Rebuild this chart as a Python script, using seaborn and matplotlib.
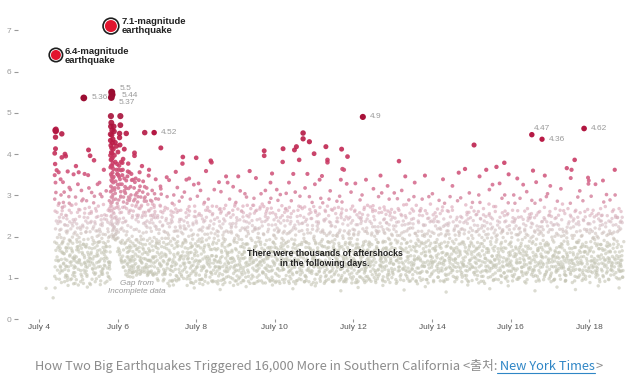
import matplotlib
matplotlib.use('Agg')
import matplotlib.pyplot as plt
from matplotlib.colors import LinearSegmentedColormap
from matplotlib.lines import Line2D
import numpy as np
import pandas as pd
import seaborn as sns

# the two main shocks (day of July, magnitude)
main_day = [4.43, 5.83]
main_mag = [6.4, 7.1]
main_label = ['6.4-magnitude\nearthquake', '7.1-magnitude\nearthquake']

# aftershocks that carry their magnitude as a label
big_day = [5.14, 5.85, 5.86, 5.84, 6.93, 12.24, 16.54, 16.80, 17.87]
big_mag = [5.36, 5.50, 5.44, 5.37, 4.52, 4.90, 4.47, 4.36, 4.62]
big_label = ['5.36', '5.5', '5.44', '5.37', '4.52', '4.9', '4.47', '4.36', '4.62']

tick_days = [4, 6, 8, 10, 12, 14, 16, 18]
mag_ticks = [0, 1, 2, 3, 4, 5, 6, 7]

# aftershock cloud, one tenth of a day at a time.
# line = column start (day of July), token "ommm" -> day + o/100, magnitude mmm/100
first_sequence = """
4.1 8075
4.3 6052
4.4 0104 1262 0187 2331 1458 3143 0402 2219 1376 4098 0291 3167 2455 1127 4238 0349 2413 5184 3307 1076 6151 8232 7119 9276 5361 7198 9141 6259 8173 4456 3460 2441
4.5 0143 1281 2097 3216 4172 5339 6118 7254 8392 9161 2205 4129 6301 8183 1238 3166 7089 5236 9271 0356 8449
4.6 0117 2246 4308 6400 8395 1189 3136 5274 7102 9213 1332 3159 5091 7228 9174 2283 6146 8129 4196
4.7 1106 3227 5173 7319 9138 0251 2094 4182 6297 8153 1209 3358 5127 7264 9191 0165 4082 8236
4.8 0188 2131 4276 6107 8351 1219 3098 5163 7241 9124 0314 2172 4232 6149 8086 1277 5199 9143
4.9 1153 3242 5096 7187 9327 0129 2211 4371 6168 8259 1113 3296 5139 7204 9176 2087 6231 0147
5.0 0121 2198 4265 6091 8172 1356 3144 5223 7109 9287 2163 4137 6218 8312 0083 5179
5.1 1096 3182 5247 7138 9211 0162 2291 4119 6352 8176 1228 3087 5154 7268 9133 4193
5.2 0175 2104 4233 6410 8149 1287 3126 5194 7318 9087 2221 4162 6139 8256 1181 5349
5.3 1139 3261 5097 7182 9224 0396 2158 4307 6123 8191 1084 3237 5171 7146 9282 0212
5.4 0385 2186 4112 6247 8159 1298 3091 5214 7137 9327 2173 4268 6098 8201 0152 3231
5.5 1127 3204 5168 7093 9251 0186 2139 4331 6212 8146 1274 3104 5188 7229 9161 6303
5.6 0196 2121 4278 6157 8088 1233 3174 5362 7141 9205 2109 4186 6243 8129 0297 5163
5.7 1164 3092 5219 7138 9287 0176 2251 4124 6189 8102 1311 3147 5235 7198 9133 6264
5.8 0122 1097 0201 1163 0262 1138 0176 1231
"""

second_sequence = """
5.8 3492 3467 2448 4476 3421 2433 4404 3386 2397 4372 3351 2368 4337 3322 2309 4296 3281 2274 4263 5252 6244 7231 8226 9218 5311 6283 7296 8267 9259 5346 6334 7318 8302 9289 5388 6371 7355 8342 9331 5415 6402 7391 8378 9364 5446 6458 7427 8436 9412 4237 3249 6229 7214 9201 8197 5274 6205
5.9 0201 1256 2313 3194 4428 5291 6207 7362 8196 9239 0345 1221 2397 3269 4205 5334 6248 7419 8217 9281 1455 3318 5192 7243 9376 0467 2224 4305 6213 8271 9352 4381 6233 2246
6.0 0164 1274 2211 3362 4168 5243 6327 7187 8296 9148 0231 1405 2172 3289 4345 5156 6258 7492 7470 8218 9381 0326 5450 5440 1197 3236 6162 8309 4267 2349 9143 6422
6.1 1137 3234 5168 7311 9142 0259 2191 4388 6127 8272 1221 3153 5296 7412 9236 0141 2349 4126 6214 8183 3271 7139 5245 9321 0184
6.2 0117 2204 4151 6289 8128 1238 3173 5346 7112 9257 2450 0186 2317 4133 6227 8164 1108 3268 5191 7377 9145 8296 6104 4212
6.3 1121 3188 5113 7246 9164 0288 2139 4223 6337 8112 1178 3264 5146 7201 9102 0356 4174 8251 2103 6129
6.4 0141 2217 4116 6273 8169 1124 3403 3396 5301 7192 9252 0114 2178 4332 6135 8218 1287 5158 9117 7241
6.5 1112 3236 5174 7109 9201 0153 2297 4128 6356 8184 1247 3121 5213 7322 9141 0171 4269 8118
6.6 0193 2116 4252 6169 8293 1138 3124 5209 7147 9452 2371 4181 6232 8114 1276 3158 5334 9126
6.7 1146 3211 5112 7278 9171 0234 2127 4318 6191 8109 1259 3162 5223 7117 9348 0296 6143
6.8 0128 2183 4251 6117 8312 1164 3221 5139 7286 9111 0362 2196 4143 6241 8177 1114 5268
6.9 1107 3198 5261 7152 9109 0233 2136 4304 6178 8224 1148 3276 5112 7339 9193 0167 6246
"""

week_two = """
7.0 0184 2123 4291 6157 8236 1098 3171 5208 7133 9322 2251 4114 6189 8276 1143
7.1 1131 3247 5108 7186 9264 0415 2161 4226 6093 8139 1303 3196 5258 7121 9174 0316
7.2 0112 2196 4244 6133 8087 1271 3156 5344 7209 9142 2118 4181 6297 8232 0158
7.3 1167 3093 5233 7128 9281 0204 2146 4108 6262 8179 1337 3121 5189 7241 9094
7.4 0138 2259 4172 6096 8214 1116 3301 5151 7223 9184 2083 4277 6131 8357 1196
7.5 1104 3188 5263 7144 9226 0093 2319 4161 6121 8242 1176 3214 5099 7286 9153
7.6 0129 2211 4154 6393 8099 1264 3177 5377 7136 9238 2108 4296 6183 8146 0221
7.7 1193 3126 5247 7082 9171 0308 2153 4219 6114 8266 1136 3191 5338 7162 9104
7.8 0148 2273 4097 6184 8129 1226 3161 5291 7111 9203 2341 4137 6174 8089 1252
7.9 1117 3206 5139 7261 9092 0178 2233 4326 6154 8121 1194 3087 5249 7168 9143
8.0 0391 2126 4189 6252 8107 1163 3298 5134 7216 9087 2177 4141 6329 8194 1233
8.1 1096 3158 5214 7123 9279 0141 2187 4097 6243 8168 1312 3127 5196 7084 9236
8.2 0174 2239 4108 6192 8136 1283 3151 5359 7117 9206 2092 4264 6147 8221 0126
8.3 1132 3197 5261 7384 9380 0088 2221 4143 6169 8113 1291 3176 5102 7238 9154
8.4 0109 2182 4136 6314 8207 1154 3093 5231 7171 9128 2256 4119 6196 8143 1274
8.5 1168 3117 5202 7139 9266 0091 2184 4246 6127 8332 1153 3214 5086 7191 9122
8.6 0143 2257 4094 6178 8231 1126 3309 5162 7108 9196 2137 4221 6152 8084 1268
8.7 1188 3134 5276 7102 9159 0243 2117 4193 6346 8128 1211 3089 5166 7252 9141
8.8 0116 2211 4162 6089 8247 1178 3136 5291 7147 9213 2104 4258 6181 8127 0331
8.9 1138 3264 5111 7187 9093 0226 2149 4321 6124 8196 1167 3232 5082 7141 9279
9.0 0171 2093 4239 6153 8118 1283 3204 5131 7346 9162 2119 4186 6267 8098 1224
9.1 1102 3176 5148 7221 9274 0134 2311 4089 6193 8157 1241 3123 5262 7108 9183
9.2 0147 2238 4112 6181 8296 1093 3162 5217 7129 9251 2173 4304 6136 8201 0118
9.3 1223 3114 5169 7087 9196 0276 2131 4248 6359 8151 1182 3104 5233 7142 9268
9.4 0098 2191 4276 6142 8119 1164 3227 5103 7293 9176 2136 4213 6087 8257 1149
9.5 1186 3129 5241 7164 9093 0217 2342 4116 6198 8133 1262 3178 5091 7219 9152
9.6 0124 2267 4151 6093 8226 1196 3138 5304 7172 9112 2243 4187 6131 8279 0162
9.7 1113 3408 3396 5237 7146 9191 0088 2273 4167 6312 8124 1207 3138 5181 7256 9102
9.8 0156 2212 4098 6283 8167 1131 3246 5116 7193 9331 2147 4229 6174 8092 1268
9.9 1174 3102 5258 7137 9216 0293 2153 4119 6186 8241 1127 3353 5164 7093 9202
10.0 0136 2229 4173 6107 8288 1151 3196 5314 7122 9169 2089 4247 6143 8211 0182
10.1 1092 3161 5233 7184 9127 0264 2118 4302 6149 8196 1216 3087 5176 7139 9251
10.2 1413 0381 2146 4213 6097 8268 1178 3121 5259 7163 9305 0131 2191 4089 6226 8144
10.3 1207 3143 5092 7271 9158 0186 2239 4127 6331 8104 1163 3248 5189 7117 9212
10.4 0119 2287 4164 6136 8222 1098 3194 5141 7352 9183 2256 4112 6173 8091 1237
10.5 0410 5418 1147 3219 5093 7178 9264 0129 2308 4161 6114 8237 1192 3086 7143
10.6 2386 1168 3124 5251 7096 9186 0142 2213 4298 6157 8119 1274 3181 5108 9232
10.7 2451 2437 0113 4196 6272 8141 1233 3162 5091 7318 9174 2128 4247 6189 8104
10.8 8430 1157 3228 5119 7183 9266 0094 2146 4209 6124 8297 1186 3352 5138 7091
10.9 0172 2117 4244 6161 8089 1209 3136 5283 7148 9196 2259 4111 6227 8167 1132
11.0 0401 2097 4186 6236 8131 1154 3263 5109 7214 9173 2327 4142 6088 8251 1191
11.1 1126 3183 5271 7104 9157 0219 2144 4338 6092 8188 1236 3117 5162 7293 9138
11.2 0162 2216 4131 6087 8264 1193 3127 5241 7176 9103 2282 4159 6208 8118 0347
11.3 4386 4380 0418 1094 3172 5136 7251 9114 2203 6162 8291 1128 5188 7097 9236
11.4 0147 2234 4103 6189 8124 1311 3158 5227 7091 9176 2133 4266 6118 8203 1164
11.5 1183 3112 5256 7143 9201 0091 2168 4224 6137 8286 1108 3193 5149 7237 9126
11.6 0128 2271 4154 6216 8097 1139 3184 5298 7121 9246 2167 4093 6173 8338 0207
11.7 0412 2364 6362 1106 3231 5147 7093 9181 0258 2123 4196 8137 1284 5169 7214
11.8 5394 1151 3097 7243 9132 0186 2264 4118 6209 8163 1091 3328 5174 7126 9196
11.9 0109 2187 4233 6141 8274 1163 3102 5196 7129 9218 2151 4308 6088 8179 1247
12.0 1134 3216 5089 7182 9253 0147 2119 4264 6171 8096 1207 3143 5329 7156 9111
12.1 0193 2138 4247 6103 8166 1229 3174 5117 7289 9148 2092 4211 6136 8243 1182
12.2 1121 3254 5168 7094 9213 0137 2301 4152 6187 8112 1238 3177 5133 7266 9089
12.3 0159 2103 4221 6276 8134 1189 3126 5243 7168 9099 2338 4144 6208 8181 0117
12.4 1176 3131 5092 7209 9261 0143 2184 4116 6232 8157 1096 3272 5138 7181 9224
12.5 0122 2249 4167 6114 8193 1316 3146 5224 7089 9172 2131 4201 6263 8108 1152
12.6 1098 3186 5258 7131 9147 0212 2119 4297 6162 8233 1171 3104 5213 7154 9348
12.7 0131 2224 4096 6189 8272 1153 3117 5186 7241 9127 2306 4168 6103 8211 1139
12.8 1188 3141 5233 7108 9196 0265 2172 4129 6219 8152 1091 3254 5167 7323 9119
12.9 0114 2193 4258 6137 8174 1216 3089 5147 7266 9203 2136 4182 6241 8101 1291
"""

last_week = """
13.0 1156 3218 5121 7192 9087 0247 2133 4306 6171 8226 1109 3164 5259
13.1 6383 0142 2203 4117 6264 8158 1091 3189 5236 7127 9174 2292 4146
13.2 1108 3251 5169 7134 9212 0096 2183 4228 6121 8277 1147 3312 5196
13.3 0193 2119 4246 6163 8098 1229 3141 5278 7186 9124 2346 4172 6104
13.4 1137 3204 5093 7168 9267 0152 2114 4233 6189 8131 1289 3176 5221
13.5 0121 2176 4297 6143 8208 1098 3262 5153 7116 9184 2231 4135 6331
13.6 1164 3112 5238 7189 9101 0276 2147 4193 6124 8252 1179 3086 5213
13.7 0146 2268 4128 6203 8171 1113 3159 5291 7138 9227 2094 4186 6251
13.8 1201 3137 5176 7096 9244 0183 2348 4154 6116 8207 1128 3263 5187
13.9 0088 2214 4163 6279 8142 1191 3124 5236 7153 9109 2297 4178 6137
14.0 1149 3253 5117 7186 9226 0132 2171 4094 6243 8166 1304 3139 5208
14.1 0176 2128 4219 6102 8288 1154 3193 5133 7236 9181 2119 4267 6158
14.2 1093 3207 5161 7272 9138 0221 2146 4184 6117 8339 1256 3172 5124
14.3 0132 2281 4109 6176 8214 1143 3228 5096 7159 9263 2187 4121 6206
14.4 1214 3148 5196 7124 9172 0097 2261 4142 6297 8113 1186 3233 5152
14.5 0158 2189 4236 6127 8091 1272 3118 5167 7219 9146 2323 4104 6184
14.6 1126 3174 5287 7152 9203 0138 2241 4116 6168 8355 1193 3097 5226
14.7 0209 2117 4183 6246 8134 1161 3294 5108 7187 9129 2156 4218 6091
14.8 4364 1142 3216 5174 7098 9253 0187 2129 6277 8162 1234 3106 5151
14.9 0117 2196 4259 6143 8221 1093 3168 5306 7124 9187 2243 4136 6179
15.0 7422 1183 3127 5239 7164 9108 0271 2148 4196 6113 8228 1157 3283
15.1 0138 2212 4097 6186 8261 1124 3172 5213 7143 9301 2168 4254 6106
15.2 1176 3244 5131 7198 9117 0159 2283 4114 6221 8183 1346 3153 5092
15.3 8362 0104 2176 4226 6148 8119 1268 3191 5137 7249 9162 2213 4087
15.4 1143 3206 5279 7117 9188 0234 2129 4167 6314 8141 1197 3101 5252
15.5 0181 2137 4243 6094 8166 1219 3153 5108 7273 9131 2197 4326 6126
15.6 4369 2273 1112 3187 5154 7228 9096 0143 6204 8171 1261 3126 5193
15.7 0156 2221 4118 6173 8293 1136 3247 5182 7104 9214 2329 4151 6089
15.8 4379 1164 3112 5236 7189 9141 0217 2127 6262 8098 1198 3173 5301
15.9 5351 0131 2208 4146 6181 8117 1253 3092 7227 9163 2133 4282 6154
16.0 1187 3129 5264 7103 9219 0156 2176 4236 6122 8301 1141 3198 5093
16.1 0109 2243 4171 6136 8204 1281 3118 5157 7341 9192 2152 4226 6097
16.2 1168 3101 5211 7184 9126 0247 2137 4293 6159 8116 1219 3174 5138
16.3 0193 2154 4128 6262 8177 1106 3231 5142 7198 9088 2326 4163 6214
16.4 1132 3268 5177 7121 9244 0163 2096 4203 6148 8189 1309 3114 5246
16.5 7360 0126 2197 4143 6231 8104 1171 3256 5119 7188 9153 2223 4288
16.6 1214 3139 5092 7226 9171 0118 2281 4157 6194 8131 1246 3106 5332
16.7 0167 2206 4134 6289 8152 1097 3173 5213 7141 9236 2118 4261 6183
16.8 7348 1127 3191 5246 7108 9163 0224 2149 4096 6271 8182 1136 3217
16.9 0151 2117 4226 6163 8098 1297 3136 5179 7251 9121 2186 4304 6143
17.0 1103 3234 5146 7192 9127 0261 2168 4112 6217 8153 1323 3091 5199
17.1 0187 2141 4268 6114 8231 1156 3201 5128 7173 9286 2097 4163 6246
17.2 1161 3123 5218 7097 9183 0138 2252 4176 6132 8316 1204 3148 5106
17.3 0124 2279 4151 6203 8116 1181 3134 5263 7167 9092 2218 4128 6189
17.4 3366 6268 1139 5188 7121 9236 0094 2161 4223 8143 1106 3197 5152
17.5 5362 3342 0172 2113 4248 6136 8196 1127 3221 7089 9161 2281 4143
17.6 3386 6264 1118 5174 7231 9102 0156 2203 4131 8187 1243 3093 5147
17.7 0139 2186 4229 6107 8162 1296 3148 5121 7258 9174 2133 4191 6311
17.8 1176 3113 5241 7163 9127 0201 2094 4287 6152 8218 1134 3182 5098
17.9 7343 9336 8328 6266 0164 2118 4213 1097 3176 5141 7231 9123 2186
18.0 0126 2251 4188 6131 8213 1104 3167 5298 7142 9196 2231 4116 6174
18.1 1198 3136 5221 7109 9178 0264 2141 4193 6327 8127 1163 3248 5117
18.2 0143 2107 4256 6171 8238 1124 3197 5152 7091 9268 2182 4134 6219
18.3 1121 3208 5167 7284 9143 0181 2136 4229 6103 8191 1251 3117 5336
18.4 0168 2233 4112 6186 8149 1273 3131 5203 7176 9097 2159 4302 6124
18.5 1147 3179 5236 7128 9261 0096 2214 4163 6138 8207 1182 3289 5119
18.6 5362 2265 0117 4193 6144 8229 1172 3108 7251 9136 2196 4127 6301
18.7 0154 2212 4137 6268 8098 1189 3147 5224 7163 9116 2247 4181 6129
18.8 0132 2176 4234 6118 8188 1261 3143 5102
"""

# the dense grey band of small shocks (magnitude ~0.9 to 2)
grey_band = """
4.5 3112 7145 1178 5126 9163 6198
4.6 2134 8107 4159 0186 6121 9172
4.7 5118 1143 7192 3101 9156 0128
4.8 4167 8113 2139 6184 0096 9148
4.9 3126 7175 1104 5151 9137 6193
5.0 2143 6118 0169 8132 4187 9104
5.1 5136 1158 7112 3181 9127 6149
5.2 0117 4142 8173 2108 6156 9131
5.3 3162 7121 1147 5198 9113 6136
5.4 2109 6153 0131 8178 4124 9166
5.5 4141 8116 2187 6128 0154 9109
5.6 3123 7168 1114 5147 9183 6131
5.7 0151 4112 8139 2176 6104 9128
6.2 6136 9118 7151 8174 5162 9195
6.3 3143 7118 1167 5126 9184 6152
6.4 2131 6178 0152 8107 4145 9193
6.5 5164 1126 7143 3187 9112 6151
6.6 0148 4173 8119 2136 6194 9162
6.7 3133 7157 1181 5124 9142 6106
6.8 2166 6129 0143 8189 4114 9151
6.9 4127 8174 2151 6139 0108 9186
7.0 3094 7136 1162 5118 9149 6183
7.1 0128 4153 8097 2176 6142 9114
7.2 5171 1109 7135 3152 9196 6124
7.3 2144 6118 0183 8129 4161 9092
7.4 3157 7121 1144 5193 9106 6138
7.5 0134 4178 8113 2158 6096 9147
7.6 5117 1151 7186 3104 9132 6163
7.7 2173 6098 0121 8146 4187 9155
7.8 3106 7162 1138 5124 9176 6089
7.9 0147 4115 8183 2131 6159 9107
8.0 4154 8096 2127 6178 0112 9141
8.1 3118 7146 1173 5097 9129 6188
8.2 0163 4103 8141 2179 6116 9152
8.3 5127 1181 7114 3148 9093 6136
8.4 2091 6144 0169 8126 4187 9111
8.5 3139 7105 1152 5171 9126 6093
8.6 0111 4166 8128 2149 6183 9097
8.7 5148 1097 7123 3174 9162 6115
8.8 2136 6181 0154 8101 4122 9147
8.9 3098 7128 1163 5146 9116 6191
9.0 0131 4105 8147 2168 6085 9194
9.1 5113 1141 7176 3129 9094 6157
9.2 2164 6102 0125 8183 4149 9138
9.3 3092 7147 1119 5171 9158 6133
9.4 0156 4124 8171 2107 6138 9087
9.5 5102 1176 7131 3144 9188 6119
9.6 2139 6161 0107 8142 4181 9115
9.7 3167 7108 1144 5124 9152 6088
9.8 0119 4151 8094 2173 6128 9163
9.9 5141 1117 7163 3096 9131 6187
10.0 2111 6146 0174 8123 4092 9158
10.1 3133 7171 1104 5156 9119 6142
10.2 0096 4168 8137 2121 6183 9106
10.3 5114 1149 7087 3176 9143 6128
10.4 2153 6108 0133 8162 4124 9181
10.5 3171 7094 1126 5139 9154 6113
10.6 0144 4117 8181 2098 6151 9129
10.7 5157 1133 7106 3148 9187 6091
10.8 2119 6174 0102 8136 4159 9114
10.9 3084 7152 1168 5117 9128 6145
11.0 0127 4183 8109 2147 6132 9166
11.1 5098 1164 7141 3115 9179 6124
11.2 2176 6113 0138 8091 4156 9143
11.3 3121 7174 1106 5153 9138 6187
11.4 0186 4129 8154 2116 6092 9171
11.5 5132 1094 7117 3169 9146 6158
11.6 2107 6139 0163 8121 4178 9101
11.7 3152 7113 1176 5091 9128 6144
11.8 0098 4146 8168 2133 6117 9184
11.9 5124 1182 7097 3141 9166 6112
12.0 2158 6128 0103 8174 4139 9089
12.1 3116 7154 1131 5172 9102 6163
12.2 0141 4098 8126 2164 6181 9118
12.3 5167 1123 7148 3093 9137 6104
12.4 2128 6163 0187 8108 4152 9141
12.5 3101 7138 1162 5118 9176 6094
12.6 0157 4121 8143 2186 6109 9128
12.7 5093 1147 7172 3126 9151 6138
12.8 2146 6102 0121 8159 4173 9096
12.9 3168 7123 1108 5142 9117 6184
13.0 0113 4152 8096 2134 6171 9142
13.1 5126 1185 7118 3153 9104 6137
13.2 2171 6123 0148 8094 4138 9166
13.3 3108 7151 1127 5184 9145 6116
13.4 0162 4117 8138 2092 6154 9123
13.5 5145 1108 7166 3131 9092 6174
13.6 2124 6151 0093 8177 4146 9112
13.7 3183 7097 1142 5116 9163 6131
13.8 0128 4163 8114 2154 6096 9141
13.9 5104 1132 7184 3167 9126 6152
14.0 2137 6172 0112 8141 4091 9168
14.1 3149 7114 1186 5102 9137 6123
14.2 0176 4135 8162 2118 6149 9093
14.3 5155 1091 7124 3142 9178 6106
14.4 2109 6136 0158 8174 4127 9146
14.5 3132 7171 1119 5143 9101 6164
14.6 0146 4102 8127 2161 6135 9182
14.7 5138 1165 7102 3124 9148 6113
14.8 2181 6118 0133 8106 4165 9128
14.9 3091 7143 1158 5175 9132 6121
15.0 0163 4126 8151 2094 6177 9114
15.1 5117 1148 7172 3135 9088 6156
15.2 2142 6104 0127 8166 4183 9139
15.3 3156 7128 1092 5147 9171 6118
15.4 0115 4162 8138 2171 6124 9103
15.5 5172 1123 7096 3153 9145 6131
15.6 2097 6148 0176 8118 4132 9163
15.7 3124 7186 1143 5106 9129 6168
15.8 0139 4113 8172 2149 6101 9146
15.9 5161 1104 7137 3117 9184 6129
16.0 2116 6167 0134 8152 4106 9123
16.1 3175 7122 1159 5138 9097 6144
16.2 0101 4147 8126 2162 6178 9113
16.3 5134 1168 7112 3146 9156 6091
16.4 2155 6124 0109 8137 4171 9149
16.5 3108 7162 1136 5184 9121 6113
16.6 0145 4181 8104 2128 6152 9166
16.7 5112 1137 7158 3093 9174 6126
16.8 2168 6103 0152 8178 4133 9109
16.9 3127 7146 1114 5161 9138 6182
17.0 0172 4128 8153 2107 6139 9094
17.1 5149 1096 7121 3166 9151 6117
17.2 2133 6176 0118 8139 4162 9127
17.3 3151 7109 1173 5124 9107 6143
17.4 0094 4156 8121 2147 6182 9136
17.5 5118 1162 7143 3109 9125 6171
17.6 2174 6121 0135 8151 4104 9186
17.7 3102 7137 1158 5166 9142 6119
17.8 0151 4119 8177 2136 6108 9163
17.9 5134 1104 7116 3147 9172 6158
18.0 2089 6152 0164 8113 4141 9125
18.1 3147 7102 1128 5184 9113 6136
18.2 0118 4171 8146 2153 6097 9181
18.3 5106 1156 7134 3171 9128 6149
18.4 2144 6116 0092 8163 4178 9138
18.5 3165 7131 1143 5107 9152 6121
18.6 0136 4148 8113 2182 6163 9101
18.7 5121 1174 7152 3098 9136 6117
18.8 0143 2117 4166 1128 3154 5102
"""

# the pinkish band above it (magnitude ~2 to 3.8), densest right after the 7.1
pink_band = """
4.5 2247 6218 9263
4.6 0271 5229 8252
4.7 3214 7281 1243
4.8 2258 6226 9207
4.9 0236 4279 8221
5.0 3249 7208 1266
5.1 2224 6257 9238
5.2 0212 4246 8271
5.3 3257 7219 1234
5.4 2236 6262 9214
5.5 0249 4218 8241
5.6 3206 7253 1227
5.7 2241 6212 9268
6.0 0351 2318 4372 6339 8298 9361
6.1 1327 3362 5284 7341 9307 2379
6.2 0305 2336 4281 6358 8317 9262
6.3 1293 3321 5352 7276 9338 4301
6.4 0262 2318 4291 6341 8277 9306
6.5 1284 3252 5312 7268 9296 4337
6.6 0273 2247 4308 6259 8286 9321
6.7 1251 3286 5238 7303 9264 2227
6.8 0262 2234 4288 6213 8252 9279
6.9 1247 3271 5226 7292 9218 4254
7.0 2246 6217 9274
7.1 0261 5228 8213
7.2 3239 7268 1211
7.3 2224 6253 9236
7.4 0248 4213 8267
7.5 3201 7236 1259
7.6 2242 6207 9226
7.7 0219 4258 8234
7.8 3262 7216 1201
7.9 2229 6274 9248
8.0 0238 4204 8256
8.1 3251 7223 1218
8.2 2206 6247 9271
8.3 0264 4227 8209
8.4 3219 7242 1253
8.5 2273 6212 9237
8.6 0226 4261 8204
8.7 3238 7214 1268
8.8 2257 6231 9222
8.9 0209 4253 8274
9.0 3246 7201 1232
9.1 2215 6262 9248
9.2 0258 4221 8236
9.3 3207 7255 1213
9.4 2239 6276 9219
9.5 0222 4264 8208
9.6 3272 7236 1221
9.7 2205 6249 9262
9.8 0241 4218 8257
9.9 3228 7204 1269
10.0 2254 6221 9238
10.1 0213 4246 8275
10.2 3239 7267 1209
10.3 2263 6209 9231
10.4 0247 4216 8262
10.5 3204 7249 1228
10.6 2231 6272 9215
10.7 0268 4206 8237
10.8 3217 7255 1242
10.9 2244 6218 9273
11.0 0201 4259 8226
11.1 3255 7211 1232
11.2 2212 6238 9261
11.3 0243 4274 8207
11.4 3226 7264 1211
11.5 2269 6203 9245
11.6 0236 4211 8253
11.7 3202 7241 1267
11.8 2248 6228 9206
11.9 0214 4267 8239
12.0 3261 7229 1204
12.1 2205 6258 9232
12.2 0246 4219 8271
12.3 3213 7252 1237
12.4 2237 6204 9266
12.5 0275 4241 8215
12.6 3224 7269 1208
12.7 2259 6217 9243
12.8 0208 4234 8262
12.9 3251 7206 1229
13.0 2226 6245 9212
13.1 0235 4268 8203
13.2 3209 7238 1254
13.3 2251 6214 9231
13.4 0219 4257 8242
13.5 3244 7208 1221
13.6 2202 6234 9263
13.7 0262 4213 8229
13.8 3228 7256 1206
13.9 2245 6201 9238
14.0 0211 4236 8258
14.1 3237 7204 1249
14.2 2218 6263 9225
14.3 0243 4202 8231
14.4 3206 7248 1227
14.5 2264 6215 9204
14.6 0226 4247 8212
14.7 3249 7219 1236
14.8 2207 6238 9259
14.9 0232 4211 8246
15.0 3215 7262 1203
15.1 2253 6227 9218
15.2 0204 4243 8227
15.3 3238 7205 1253
15.4 2219 6256 9231
15.5 0247 4223 8209
15.6 3201 7238 1216
15.7 2235 6209 9258
15.8 0213 4251 8238
15.9 3256 7217 1224
16.0 2209 6246 9235
16.1 0239 4205 8263
16.2 3221 7248 1206
16.3 2242 6218 9227
16.4 0206 4239 8254
16.5 3233 7201 1248
16.6 2211 6252 9217
16.7 0258 4224 8209
16.8 3203 7242 1237
16.9 2236 6211 9253
17.0 0217 4249 8228
17.1 3244 7208 1229
17.2 2228 6264 9201
17.3 0241 4212 8256
17.4 3209 7231 1214
17.5 2252 6203 9238
17.6 0224 4261 8212
17.7 3236 7214 1247
17.8 2203 6239 9261
17.9 0248 4217 8232
18.0 3217 7256 1209
18.1 2236 6208 9252
18.2 0201 4243 8227
18.3 3252 7211 1238
18.4 2224 6251 9206
18.5 0238 4208 8244
18.6 3211 7247 1228
18.7 2246 6216 9235
18.8 0219 4247 1238
"""

# sparse very small shocks under the band
low_tail = """
5.2 3078
5.5 6084
7.3 2081
7.9 5076
8.6 1072
9.2 7079
9.9 4083
10.4 6074
11.0 3081
11.6 8069
12.1 2077
12.7 5082
13.2 9071
13.8 3079
14.3 6066
14.9 1083
15.4 7074
15.9 4081
16.6 2069
17.1 8078
17.6 5072
18.2 3081
18.7 6076
"""


def read_columns(table):
    days, mags = [], []
    for line in table.strip().splitlines():
        col, *tokens = line.split()
        for tok in tokens:
            days.append(round(float(col) + int(tok[0]) / 100, 3))
            mags.append(int(tok[1:]) / 100)
    return days, mags


cloud_day, cloud_mag = [], []
for table in (first_sequence, second_sequence, week_two, last_week, grey_band, pink_band, low_tail):
    d, m = read_columns(table)
    cloud_day += d
    cloud_mag += m

# ---- style ----
sns.set_style('white')
plt.rcParams['font.family'] = ['Liberation Sans', 'DejaVu Sans']

mag_stops = [0.5, 1.8, 2.3, 2.8, 3.3, 3.8, 4.3, 5.0, 5.5]
mag_colors = ['#c3c4b3', '#c5c5b4', '#d4bcc2', '#db9db1', '#d66e90',
              '#cb3d67', '#bb1c48', '#a50f37', '#980c30']
cmap = LinearSegmentedColormap.from_list(
    'quake', [((m - 0.5) / 5.0, c) for m, c in zip(mag_stops, mag_colors)])


def dot_area(mag):
    px = np.interp(mag, [0, 2.5, 3, 3.5, 4, 4.5, 5, 5.5], [3.4, 3.4, 3.6, 4.1, 4.8, 5.5, 6.3, 7.0])
    return (px * 0.72) ** 2


cloud = pd.DataFrame({'day': cloud_day, 'mag': cloud_mag})
big = pd.DataFrame({'day': big_day, 'mag': big_mag})
cloud['s'] = dot_area(cloud['mag'])
big['s'] = dot_area(big['mag'])
cloud = cloud.sort_values('mag')
s_lo, s_hi = dot_area(0), dot_area(5.5)

fig = plt.figure(figsize=(6.38, 3.80), dpi=100)
ax = fig.add_axes([18 / 638, 60.7 / 380, 610 / 638, 7.6 * 41.3 / 380])


def draw(frame, alpha):
    sns.scatterplot(data=frame, x='day', y='mag', hue='mag', palette=cmap, hue_norm=(0.5, 5.5),
                    size='s', sizes=(s_lo, s_hi), size_norm=(s_lo, s_hi),
                    linewidth=0, alpha=alpha, legend=False, ax=ax)


draw(cloud[cloud['mag'] < 2.8], 0.6)
draw(cloud[cloud['mag'] >= 2.8], 0.9)
draw(big, 1.0)

# main shocks: dark ring, white gap, red core
ring_s = np.interp(main_mag, [6.4, 7.1], [93, 128])
core_s = np.interp(main_mag, [6.4, 7.1], [52, 75])
sns.scatterplot(x=main_day, y=main_mag, size=ring_s, sizes=(ring_s.min(), ring_s.max()),
                size_norm=(ring_s.min(), ring_s.max()), color='white', edgecolor='#1e1e1e',
                linewidth=1.2, legend=False, ax=ax, zorder=4)
sns.scatterplot(x=main_day, y=main_mag, size=core_s, sizes=(core_s.min(), core_s.max()),
                size_norm=(core_s.min(), core_s.max()), color='#e2142e', linewidth=0,
                legend=False, ax=ax, zorder=5)

main_offset = [(9, -1.5), (11, 0)]
for d, m, lab, (ox, oy) in zip(main_day, main_mag, main_label, main_offset):
    ax.annotate(lab, (d, m), xytext=(ox * 0.72, oy * 0.72), textcoords='offset points',
                ha='left', va='center', fontsize=6.8, fontweight='bold',
                color='#222222', linespacing=1.0, zorder=6)

big_offset = [(8, 0), (8, 4), (10, -0.5), (7, -4.5), (7, 0), (7, 0), (2, 6.5), (7, 0), (7, 0)]
for d, m, lab, (ox, oy) in zip(big_day, big_mag, big_label, big_offset):
    ax.annotate(lab, (d, m), xytext=(ox * 0.72, oy * 0.72), textcoords='offset points',
                ha='left', va='center', fontsize=6, color='#9a9a9a', zorder=6)

ax.text(11.28, 1.48, 'There were thousands of aftershocks\nin the following days.',
        ha='center', va='center', fontsize=6.3, fontweight='bold',
        color='#222222', linespacing=1.1, zorder=6)
ax.text(6.48, 0.77, 'Gap from\nIncomplete data', ha='center', va='center', fontsize=5.9,
        style='italic', color='#9a9a9a', linespacing=1.15, zorder=6)

ax.set_xlim(4 + (18 - 39) / 39.3, 4 + (628 - 39) / 39.3)
ax.set_ylim(0, 7.6)
ax.set_xticks(tick_days, [f'July {d}' for d in tick_days])
ax.set_yticks(mag_ticks, [str(v) for v in mag_ticks])
ax.tick_params(axis='x', bottom=True, length=2.4, width=0.8, color='#999999', pad=1.2,
               labelsize=6, labelcolor='#555555')
ax.tick_params(axis='y', left=True, length=2.6, width=0.8, color='#999999', pad=2.0,
               labelsize=6, labelcolor='#9a9a9a')
ax.set_xlabel('')
ax.set_ylabel('')
for sp in ax.spines.values():
    sp.set_visible(False)

# caption with the linked source
renderer = fig.canvas.get_renderer()
parts = [('How Two Big Earthquakes Triggered 16,000 More in Southern California <출처:', '#8c8c8c'),
         (' New York Times', '#2f86c6'),
         ('>', '#8c8c8c')]
texts = [fig.text(0, 10 / 380, s, color=c, fontsize=9.25, family=['Noto Sans CJK KR', 'DejaVu Sans'],
                  ha='left', va='baseline') for s, c in parts]
widths = [t.get_window_extent(renderer).width for t in texts]
start = 318.5 - sum(widths) / 2
x = start
for t, w in zip(texts, widths):
    t.set_x(x / 638)
    x += w
link_x0 = (start + widths[0]) / 638
link_x1 = link_x0 + widths[1] / 638
fig.add_artist(Line2D([link_x0, link_x1], [7.5 / 380, 7.5 / 380], color='#2f86c6', lw=0.8))

fig.savefig('out.png', dpi=100)
